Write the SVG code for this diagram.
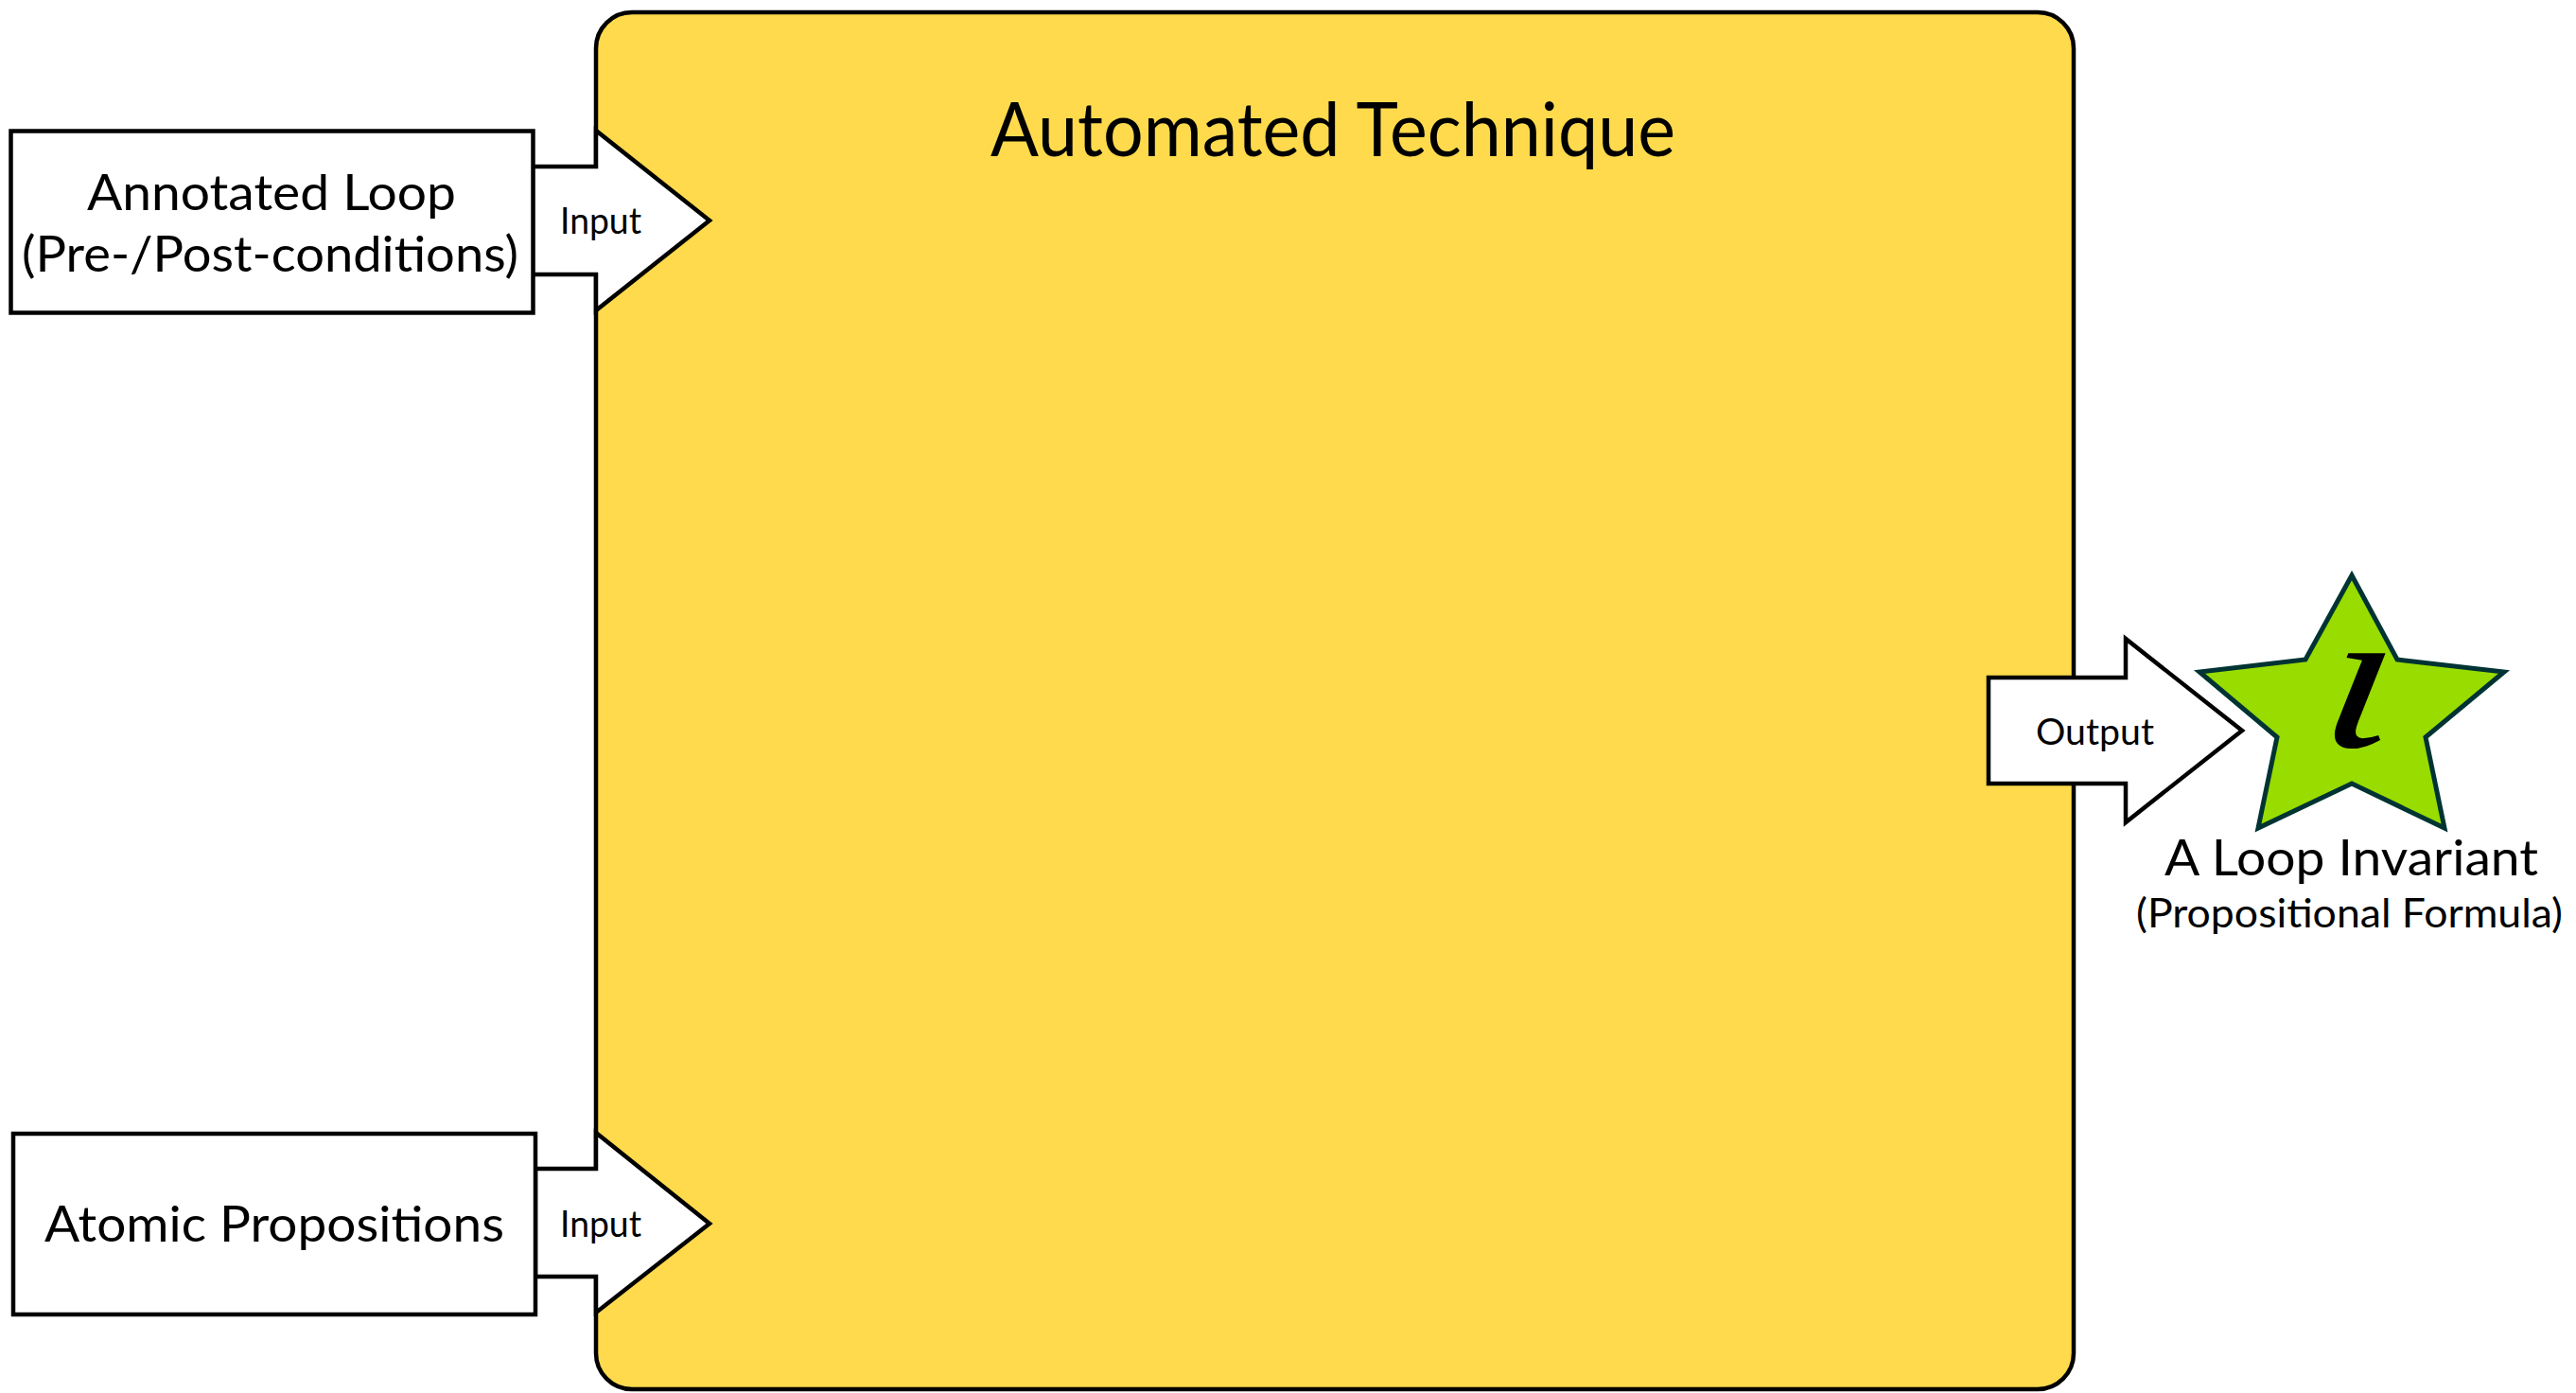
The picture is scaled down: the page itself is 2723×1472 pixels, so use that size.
<svg xmlns="http://www.w3.org/2000/svg" width="2723" height="1472" viewBox="0 0 2723 1472">
<style>
.bg{fill:#ffffff}
.box{fill:#ffffff;stroke:#000000;stroke-width:4.5}
.main{fill:#FEDA4C;stroke:#000000;stroke-width:4.5}
.arrow{fill:#ffffff;stroke:#000000;stroke-width:4.5;stroke-linejoin:miter}
.star{fill:#99DC00;stroke:#003333;stroke-width:5;stroke-linejoin:miter}
text{font-family:"Lato","Open Sans","Liberation Sans",sans-serif;fill:#000000}
.t52{font-size:52px}
.t40{font-size:39px}
.t42{font-size:42px}
.title{font-size:79px}
.iota{font-family:"Liberation Serif","DejaVu Serif",serif;font-style:italic;font-size:215px}
</style>
<rect class="bg" x="0" y="0" width="2723" height="1472"/>
<g id="technique">
<rect class="main" x="630" y="13" width="1562" height="1455" rx="38" ry="38"/>
<text class="title" x="1047" y="165" textLength="724" lengthAdjust="spacingAndGlyphs">Automated Technique</text>
</g>
<g id="connectors">
<g id="input1">
<polygon class="arrow" points="563,176 630,176 630,138 750,233 630,328 630,290 563,290"/>
<text class="t40" x="592" y="247" textLength="86" lengthAdjust="spacingAndGlyphs">Input</text>
</g>
<g id="input2">
<polygon class="arrow" points="566,1235 630,1235 630,1197 750,1293 630,1387 630,1349 566,1349"/>
<text class="t40" x="592" y="1307" textLength="86" lengthAdjust="spacingAndGlyphs">Input</text>
</g>
<g id="output">
<polygon class="arrow" points="2102,716 2247,716 2247,675 2370,772 2247,869 2247,828 2102,828"/>
<text class="t40" x="2152" y="787" textLength="125" lengthAdjust="spacingAndGlyphs">Output</text>
</g>
</g>
<g id="annotated-loop">
<rect class="box" x="11.5" y="138.5" width="552" height="192"/>
<text class="t52" x="92" y="222" textLength="390" lengthAdjust="spacingAndGlyphs">Annotated Loop</text>
<text class="t52" x="23" y="287" textLength="525" lengthAdjust="spacingAndGlyphs">(Pre-/Post-conditions)</text>
</g>
<g id="atomic-propositions">
<rect class="box" x="14" y="1198" width="552" height="191"/>
<text class="t52" x="47" y="1312" textLength="486" lengthAdjust="spacingAndGlyphs">Atomic Propositions</text>
</g>
<g id="loop-invariant">
<polygon class="star" points="2486,608 2534,697 2647,710 2564,779 2584,875 2486,828 2387,875 2407,779 2325,710 2437,697"/>
<text class="iota" x="0" y="0" transform="translate(2448,789) skewX(-10) scale(1.25,1)">ι</text>
<text class="t52" x="2288" y="925" textLength="395" lengthAdjust="spacingAndGlyphs">A Loop Invariant</text>
<text class="t42" x="2258" y="980" textLength="451" lengthAdjust="spacingAndGlyphs">(Propositional Formula)</text>
</g>
</svg>
